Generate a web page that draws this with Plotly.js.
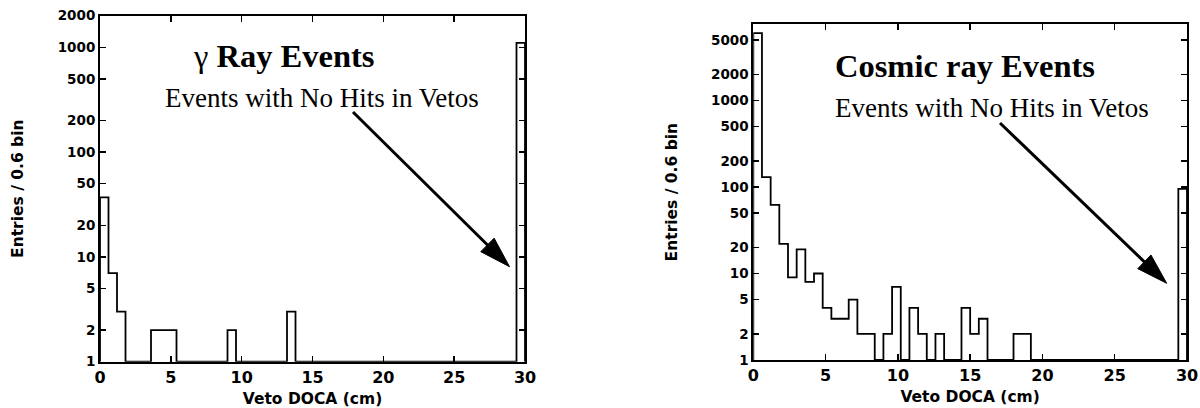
<!DOCTYPE html>
<html>
<head>
<meta charset="utf-8">
<script src="https://cdn.plot.ly/plotly-3.0.1.min.js"></script>
<style>
  html, body { margin: 0; padding: 0; background: #fff; }
  #chart { width: 1200px; height: 408px; }
</style>
</head>
<body>
<div id="chart"></div>
<script>
// ---- data (entries per 0.6 cm bin, 50 bins from 0 to 30 cm) ----
const binWidth = 0.6;
const gammaCounts = [
  37, 7, 3, 0, 0, 0, 2, 2, 2, 0,
  0, 0, 0, 0, 0, 2, 0, 0, 0, 0,
  0, 0, 3, 0, 0, 0, 0, 0, 0, 0,
  0, 0, 0, 0, 0, 0, 0, 0, 0, 0,
  0, 0, 0, 0, 0, 0, 0, 0, 0, 1100
];
const cosmicCounts = [
  6000, 130, 62, 22, 9, 19, 8, 10, 4, 3,
  3, 5, 2, 2, 0, 2, 7, 0, 4, 2,
  0, 2, 0, 0, 4, 2, 3, 0, 0, 0,
  2, 2, 0, 0, 0, 0, 0, 0, 0, 0,
  0, 0, 0, 0, 0, 0, 0, 0, 0, 95
];
const xTicks = [0, 5, 10, 15, 20, 25, 30];
const yTicksGamma = [1, 2, 5, 10, 20, 50, 100, 200, 500, 1000, 2000];
const yTicksCosmic = [1, 2, 5, 10, 20, 50, 100, 200, 500, 1000, 2000, 5000];
const xTitle = 'Veto DOCA (cm)';
const yTitle = 'Entries / 0.6 bin';
const gammaLabel = '<span style="font-weight:normal">γ</span> Ray Events';
const cosmicLabel = 'Cosmic ray Events';
const noHitsLabel = 'Events with No Hits in Vetos';

// ---- helpers ----
const W = 1200, H = 408;
const px = (x) => x / W;
const py = (y) => 1 - y / H;

function stepTrace(counts, floor, xa, ya) {
  const xs = [0], ys = [floor];
  counts.forEach((c, i) => { xs.push(i * binWidth); ys.push(c > 0 ? c : floor); });
  xs.push(counts.length * binWidth); ys.push(floor);
  return {
    x: xs, y: ys, xaxis: xa, yaxis: ya, type: 'scatter', mode: 'lines',
    line: { shape: 'hv', color: '#000', width: 1.8 },
    hoverinfo: 'skip', showlegend: false, cliponaxis: false
  };
}

const tickFont = { family: 'DejaVu Sans', size: 13.5, color: '#000', weight: 'bold' };
const xTickFont = { family: 'DejaVu Sans', size: 16, color: '#000', weight: 'bold' };
const titleFont = { family: 'DejaVu Sans', size: 15.5, color: '#000', weight: 'bold' };

function xAxis(domain, anchor) {
  return {
    domain: domain, anchor: anchor, range: [0, 30], tickvals: xTicks,
    ticktext: xTicks.map(String), ticks: 'inside', ticklen: 6, tickwidth: 1.5,
    tickcolor: '#000', showline: true, linecolor: '#000', linewidth: 2,
    mirror: 'ticks', showgrid: false, zeroline: false, tickfont: xTickFont,
    title: { text: xTitle, font: titleFont, standoff: 7 }, fixedrange: true
  };
}
function yAxis(domain, anchor, top, ticks) {
  return {
    domain: domain, anchor: anchor, type: 'log', range: [0, Math.log10(top)],
    tickvals: ticks, ticktext: ticks.map(String), ticks: 'inside', ticklen: 6,
    tickwidth: 1.5, tickcolor: '#000', showline: true, linecolor: '#000',
    linewidth: 2, mirror: 'ticks', showgrid: false, zeroline: false,
    tickfont: tickFont, title: { text: yTitle, font: titleFont, standoff: 30 },
    fixedrange: true
  };
}

const traces = [
  stepTrace(gammaCounts, 1, 'x', 'y'),
  stepTrace(cosmicCounts, 1, 'x2', 'y2')
];

function arrow(tail, tip, len, halfW) {
  const dx = tip[0] - tail[0], dy = tip[1] - tail[1];
  const L = Math.hypot(dx, dy), ux = dx / L, uy = dy / L;
  const bx = tip[0] - ux * len, by = tip[1] - uy * len;
  const nx = -uy, ny = ux;
  const c1 = [bx + nx * halfW, by + ny * halfW], c2 = [bx - nx * halfW, by - ny * halfW];
  const sx = tip[0] - ux * (len - 4), sy = tip[1] - uy * (len - 4);
  return [
    { type: 'line', xref: 'paper', yref: 'paper', x0: px(tail[0]), y0: py(tail[1]),
      x1: px(sx), y1: py(sy), line: { color: '#000', width: 3 } },
    { type: 'path', xref: 'paper', yref: 'paper',
      path: `M ${px(tip[0])},${py(tip[1])} L ${px(c1[0])},${py(c1[1])} L ${px(c2[0])},${py(c2[1])} Z`,
      fillcolor: '#000', line: { color: '#000', width: 1 } }
  ];
}

const serifBold = { family: 'Liberation Serif', size: 32.5, color: '#000', weight: 'bold' };
const serif = { family: 'Liberation Serif', size: 27, color: '#000' };

const layout = {
  width: W, height: H, margin: { l: 0, r: 0, t: 0, b: 0 },
  paper_bgcolor: '#fff', plot_bgcolor: '#fff', showlegend: false,
  xaxis: xAxis([px(100), px(525)], 'y'),
  yaxis: yAxis([py(361.7), py(15.7)], 'x', 2000, yTicksGamma),
  xaxis2: xAxis([px(753.3), px(1187)], 'y2'),
  yaxis2: yAxis([py(360), py(24.3)], 'x2', 7600, yTicksCosmic),
  shapes: [].concat(
    arrow([353, 112], [509.5, 266.7], 31, 9.5),
    arrow([1000, 123], [1166.7, 283.3], 31, 9.5)
  ),
  annotations: [
    { xref: 'paper', yref: 'paper', x: px(191), y: py(56), xanchor: 'left', yanchor: 'middle',
      text: gammaLabel, showarrow: false, font: serifBold },
    { xref: 'paper', yref: 'paper', x: px(163), y: py(98), xanchor: 'left', yanchor: 'middle',
      text: noHitsLabel, showarrow: false, font: serif },
    { xref: 'paper', yref: 'paper', x: px(833), y: py(66), xanchor: 'left', yanchor: 'middle',
      text: cosmicLabel, showarrow: false, font: serifBold },
    { xref: 'paper', yref: 'paper', x: px(833), y: py(108.5), xanchor: 'left', yanchor: 'middle',
      text: noHitsLabel, showarrow: false, font: serif }
  ]
};

Plotly.newPlot('chart', traces, layout, { staticPlot: true, displayModeBar: false });
</script>
</body>
</html>
